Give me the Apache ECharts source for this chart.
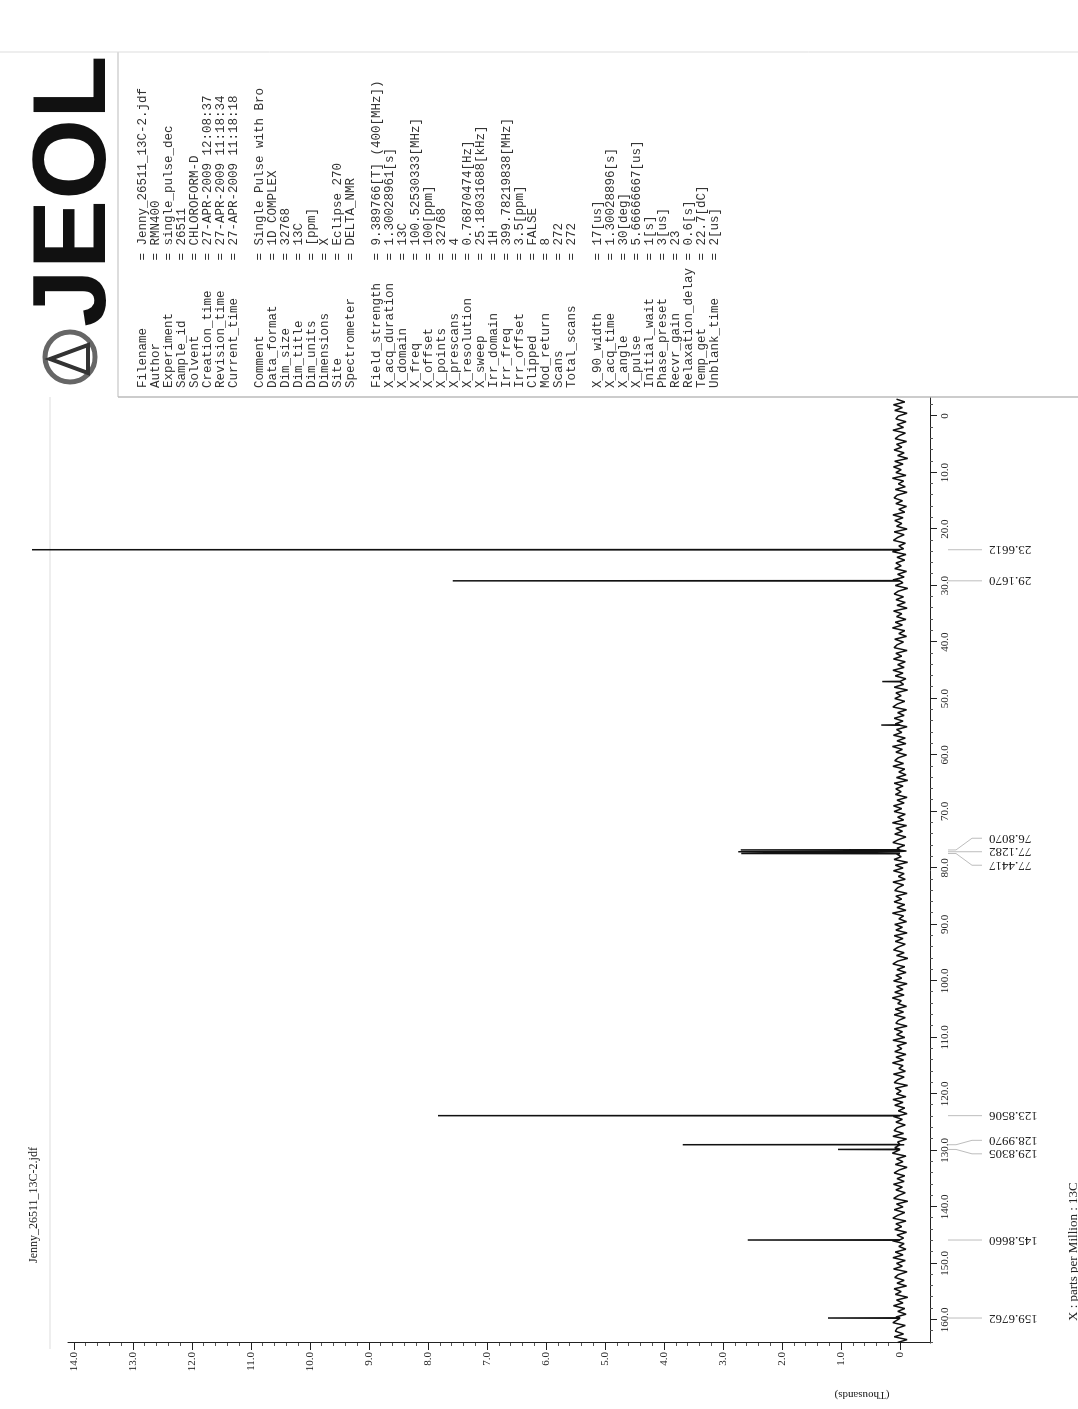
<!DOCTYPE html>
<html>
<head>
<meta charset="utf-8">
<script src="https://cdn.jsdelivr.net/npm/echarts@6/dist/echarts.min.js"></script>
<style>
html,body{margin:0;padding:0;background:#fff;overflow:hidden;width:1078px;height:1409px;}
/* the sheet was scanned sideways: draw it landscape and turn it */
#page{position:absolute;left:0;top:0;width:1409px;height:1078px;transform-origin:0 0;transform:translate(0,1409px) rotate(-90deg);}
</style>
</head>
<body>
<div id="page"></div>
<script>
// axis ticks
var ppmTicks = [0,10,20,30,40,50,60,70,80,90,100,110,120,130,140,150,160];
var ppmTickLabels = ['0','10.0','20.0','30.0','40.0','50.0','60.0','70.0','80.0','90.0','100.0','110.0','120.0','130.0','140.0','150.0','160.0'];
var intTicks = [0,1,2,3,4,5,6,7,8,9,10,11,12,13,14];
var intTickLabels = ['0','1.0','2.0','3.0','4.0','5.0','6.0','7.0','8.0','9.0','10.0','11.0','12.0','13.0','14.0'];

// picked peaks (ppm) and heights (thousands)
var peakPpm = [23.6612, 29.1670, 76.8070, 77.1282, 77.4417, 123.8506, 128.9970, 129.8305, 145.8660, 159.6762];
var peakHeight = [14.71, 7.58, 2.70, 2.74, 2.69, 7.83, 3.68, 1.05, 2.58, 1.22];
var peakLabels = ['23.6612','29.1670','76.8070','77.1282','77.4417','123.8506','128.9970','129.8305','145.8660','159.6762'];
// small unlabelled spikes
var smallPpm = [47.0, 54.7];
var smallHeight = [0.30, 0.32];

// baseline noise, one value every 0.5 ppm from -3.0
var noiseStart = -3.0, noiseStep = 0.5;
var noise = [
 .06,-.08,.11,-.04,.09,-.12,.03,.07,-.1,.05,-.06,.12,-.09,.02,.08,-.11,.06,-.03,.1,-.07,
 .04,-.13,.09,-.05,.11,-.02,.07,-.1,.13,-.06,.03,-.09,.08,-.12,.05,.1,-.04,.07,-.11,.02,
 -.08,.12,-.05,.09,-.03,.06,-.12,.1,-.07,.04,.11,-.09,.02,-.06,.13,-.1,.05,-.08,.07,-.02,
 .09,-.11,.04,-.07,.12,-.05,.08,-.13,.03,.1,-.06,.07,-.09,.05,-.12,.11,-.03,.06,-.1,.08,
 -.04,.13,-.08,.02,-.11,.09,-.06,.05,.1,-.12,.07,-.03,.11,-.09,.04,-.07,.12,-.05,.08,-.1,
 .03,-.06,.1,-.13,.07,-.02,.09,-.08,.05,.12,-.11,.04,-.07,.1,-.05,.08,-.12,.06,-.03,.11,
 -.09,.05,-.1,.13,-.04,.07,-.11,.03,.09,-.06,.12,-.08,.02,-.1,.06,-.13,.1,-.05,.07,-.02,
 .08,-.12,.05,-.07,.11,-.03,.1,-.09,.04,-.06,.13,-.11,.07,-.04,.09,-.1,.03,.12,-.08,.05,
 -.11,.06,-.02,.1,-.13,.08,-.05,.11,-.07,.03,-.09,.12,-.06,.04,.09,-.12,.07,-.03,.1,-.08,
 .05,-.1,.13,-.06,.02,-.11,.09,-.04,.07,-.12,.1,-.05,.08,-.09,.03,.11,-.07,.06,-.13,.04,
 .12,-.08,.05,-.1,.07,-.03,.11,-.12,.06,-.05,.09,-.07,.13,-.02,.04,-.11,.08,-.06,.1,-.09,
 .03,.07,-.12,.1,-.04,.06,-.08,.12,-.11,.05,-.03,.09,-.1,.07,-.06,.13,-.05,.02,-.09,.11,
 -.07,.04,.1,-.13,.08,-.02,.06,-.1,.12,-.05,.09,-.08,.03,-.12,.11,-.04,.07,-.09,.05,.1,
 -.06,.12,-.11,.04,-.07,.09,-.03,.13,-.1,.06,-.05,.08,-.12,.02,.1,-.08,.05,-.07,.11,-.04,
 .07,-.09,.03,.11,-.13,.06,-.05,.1,-.08,.04,.12,-.1,.07,-.03,.09,-.11,.05,-.06,.13,-.07,
 .02,-.1,.08,-.05,.12,-.09,.06,-.04,.11,-.12,.03,.09,-.07,.05,-.11,.1,-.02,.08,-.13,.06,
 -.05,.11,-.08,.04,-.1,.07,-.03,.12,-.09,.05,.08,-.06,.1,-.12,.04
];

// header block
var paramNames = ['Filename','Author','Experiment','Sample_id','Solvent','Creation_time','Revision_time','Current_time','',
  'Comment','Data_format','Dim_size','Dim_title','Dim_units','Dimensions','Site','Spectrometer','',
  'Field_strength','X_acq_duration','X_domain','X_freq','X_offset','X_points','X_prescans','X_resolution','X_sweep',
  'Irr_domain','Irr_freq','Irr_offset','Clipped','Mod_return','Scans','Total_scans','',
  'X_90_width','X_acq_time','X_angle','X_pulse','Initial_wait','Phase_preset','Recvr_gain','Relaxation_delay','Temp_get','Unblank_time'];
var paramValues = ['Jenny_26511_13C-2.jdf','RMN400','single_pulse_dec','26511','CHLOROFORM-D','27-APR-2009 12:08:37','27-APR-2009 11:18:34','27-APR-2009 11:18:18','',
  'Single Pulse with Bro','1D COMPLEX','32768','13C','[ppm]','X','Eclipse 270','DELTA_NMR','',
  '9.389766[T] (400[MHz])','1.30028961[s]','13C','100.52530333[MHz]','100[ppm]','32768','4','0.76870474[Hz]','25.18031688[kHz]',
  '1H','399.78219838[MHz]','3.5[ppm]','FALSE','8','272','272','',
  '17[us]','1.30028896[s]','30[deg]','5.66666667[us]','1[s]','3[us]','23','0.6[s]','22.7[dC]','2[us]'];

var chart = echarts.init(document.getElementById('page'));

var spec = [];
noise.forEach(function (v, i) { spec.push([noiseStart + i * noiseStep, v]); });
peakPpm.forEach(function (p, i) { spec.push([p - 0.04, 0], [p, peakHeight[i]], [p + 0.04, 0]); });
smallPpm.forEach(function (p, i) { spec.push([p - 0.04, 0], [p, smallHeight[i]], [p + 0.04, 0]); });
spec.sort(function (a, b) { return a[0] - b[0]; });

var ppmMinor = [], intMinor = [];
for (var m = -2; m <= 164; m += 2) { if (m % 10 !== 0) ppmMinor.push(m); }
for (var k = 0; k <= 141; k += 2) { if (k % 10 !== 0) intMinor.push(k / 10); }

var serif = '"Liberation Serif", "DejaVu Serif", serif';
var ink = '#222';

chart.setOption({
    backgroundColor: '#fff',
    animation: false,
    grid: { left: 66, right: 398, top: 68, bottom: 148 },
    xAxis: [{
        type: 'value', inverse: true, min: -3.2, max: 164.1, position: 'bottom',
        axisLine: { show: true, onZero: false, lineStyle: { color: ink, width: 1 } },
        axisTick: { show: true, customValues: ppmTicks, length: 7, lineStyle: { color: ink } },
        axisLabel: {
            customValues: ppmTicks, margin: 10, color: ink, fontFamily: serif, fontSize: 11,
            formatter: function (v) { return ppmTickLabels[ppmTicks.indexOf(v)]; }
        },
        splitLine: { show: false }
    }, {
        type: 'value', inverse: true, min: -3.2, max: 164.1, position: 'bottom',
        axisLine: { show: false, onZero: false },
        axisTick: { show: true, customValues: ppmMinor, length: 3, lineStyle: { color: '#555' } },
        axisLabel: { show: false },
        splitLine: { show: false }
    }],
    yAxis: [{
        type: 'value', min: -0.508, max: 14.1, position: 'left',
        axisLine: { show: true, onZero: false, lineStyle: { color: ink, width: 1 } },
        axisTick: { show: true, customValues: intTicks, length: 7, lineStyle: { color: ink } },
        axisLabel: {
            customValues: intTicks, margin: 9, color: ink, fontFamily: serif, fontSize: 11,
            formatter: function (v) { return intTickLabels[intTicks.indexOf(v)]; }
        },
        splitLine: { show: false }
    }, {
        type: 'value', min: -0.508, max: 14.1, position: 'left',
        axisLine: { show: false, onZero: false },
        axisTick: { show: true, customValues: intMinor, length: 3, lineStyle: { color: '#555' } },
        axisLabel: { show: false },
        splitLine: { show: false }
    }],
    series: [{
        type: 'line', data: spec, xAxisIndex: 0, yAxisIndex: 0,
        symbol: 'none', clip: false,
        lineStyle: { color: '#111', width: 1.5 }
    }]
});

/**
 * peak labels under the ppm axis, pushed apart when they crowd
 */
var gap = 13.5;
var marks = peakPpm.map(function (p, i) {
    return { px: chart.convertToPixel({ xAxisIndex: 0 }, p), text: peakLabels[i] };
});
marks.sort(function (a, b) { return a.px - b.px; });
var groups = [], cur = [marks[0]];
for (var i = 1; i < marks.length; i++) {
    if (marks[i].px - marks[i - 1].px < gap) { cur.push(marks[i]); } else { groups.push(cur); cur = [marks[i]]; }
}
groups.push(cur);
groups.forEach(function (g) {
    var c = 0;
    g.forEach(function (d) { c += d.px; });
    c = c / g.length;
    g.forEach(function (d, j) { d.lx = c + (j - (g.length - 1) / 2) * gap; });
});

var gfx = [];
marks.forEach(function (d) {
    gfx.push({
        type: 'polyline', silent: true,
        shape: { points: [[d.px, 948], [d.px, 956], [d.lx, 972], [d.lx, 982]] },
        style: { stroke: '#bdbdbd', lineWidth: 1, fill: null }
    });
    gfx.push({
        type: 'text', x: d.lx, y: 989, rotation: Math.PI / 2, silent: true,
        style: { text: d.text, align: 'right', verticalAlign: 'middle', fontFamily: serif, fontSize: 13, fill: ink }
    });
});

// header box lines
gfx.push({ type: 'line', shape: { x1: 1012, y1: 118, x2: 1012, y2: 1078 }, style: { stroke: '#999', lineWidth: 1 } });
gfx.push({ type: 'line', shape: { x1: 1012, y1: 118, x2: 1357, y2: 118 }, style: { stroke: '#bbb', lineWidth: 1 } });
gfx.push({ type: 'line', shape: { x1: 1357, y1: 0, x2: 1357, y2: 1078 }, style: { stroke: '#ddd', lineWidth: 1 } });
gfx.push({ type: 'line', shape: { x1: 60, y1: 50, x2: 1012, y2: 50 }, style: { stroke: '#ddd', lineWidth: 1 } });

// JEOL mark
gfx.push({ type: 'circle', shape: { cx: 1052, cy: 70, r: 25 }, style: { stroke: '#666', lineWidth: 5, fill: null } });
gfx.push({ type: 'polygon', shape: { points: [[1036, 88], [1064, 88], [1050, 50]] }, style: { stroke: '#333', lineWidth: 4, fill: null } });
gfx.push({
    type: 'text', x: 1082, y: 76,
    style: { text: 'JEOL', align: 'left', verticalAlign: 'middle', fontFamily: '"Liberation Sans", Arial, sans-serif', fontWeight: 'bold', fontSize: 104, fill: '#111' }
});

// parameters
var lines = paramNames.map(function (n, i) {
    if (!n) return '';
    var pad = n;
    while (pad.length < 17) pad += ' ';
    return pad + '= ' + paramValues[i];
});
gfx.push({
    type: 'text', x: 1021, y: 136,
    style: { text: lines.join('\n'), align: 'left', verticalAlign: 'top', lineHeight: 13, fontFamily: '"Liberation Mono", "DejaVu Sans Mono", monospace', fontSize: 12.5, fill: '#333' }
});

// title, axis name, footer
gfx.push({ type: 'text', x: 146, y: 34, style: { text: 'Jenny_26511_13C-2.jdf', align: 'left', verticalAlign: 'middle', fontFamily: serif, fontSize: 12, fill: ink } });
gfx.push({ type: 'text', x: 14, y: 862, rotation: Math.PI / 2, style: { text: '(Thousands)', align: 'center', verticalAlign: 'middle', fontFamily: serif, fontSize: 11, fill: ink } });
gfx.push({ type: 'text', x: 88, y: 1074, style: { text: 'X : parts per Million : 13C', align: 'left', verticalAlign: 'middle', fontFamily: serif, fontSize: 13, fill: ink } });

chart.setOption({ graphic: gfx });
</script>
</body>
</html>
